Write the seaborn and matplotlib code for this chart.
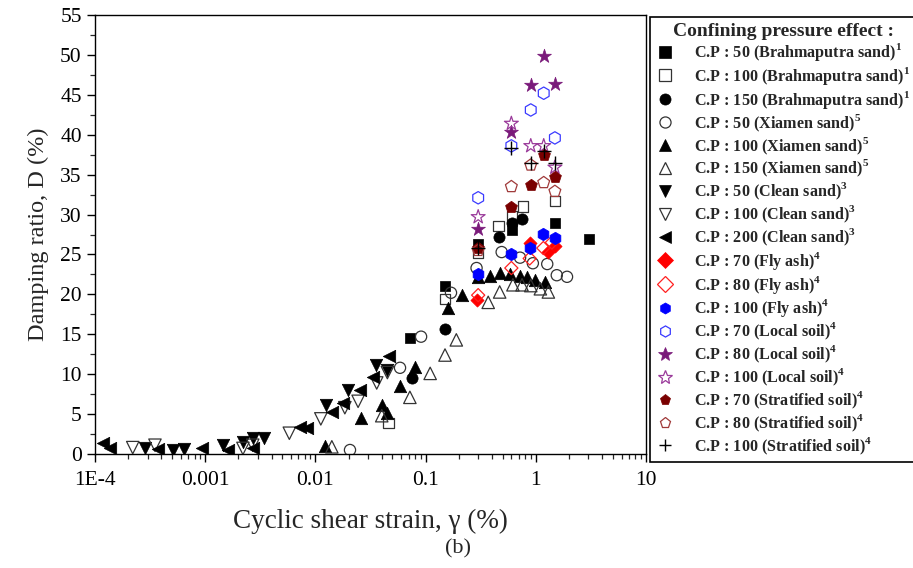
import matplotlib
matplotlib.use("Agg")
import matplotlib.pyplot as plt
import seaborn as sns
import numpy as np
import pandas as pd
from matplotlib.lines import Line2D
from matplotlib.ticker import FixedLocator, NullFormatter, MultipleLocator

# ---------------- data ----------------
bs50_x = [0.072, 0.15, 0.30, 0.61, 1.49, 3.04]
bs50_y = [14.5, 21.1, 26.3, 28.1, 28.9, 26.9]
bs100_x = [0.046, 0.15, 0.30, 0.46, 0.61, 0.77, 1.50]
bs100_y = [3.9, 19.4, 25.2, 28.6, 29.8, 31.0, 31.7]
bs150_x = [0.075, 0.15, 0.46, 0.61, 0.75]
bs150_y = [9.5, 15.7, 27.2, 29.0, 29.4]
xm50_x = [0.0206, 0.0586, 0.091, 0.17, 0.29, 0.49, 0.72, 0.94, 1.27, 1.55, 1.92]
xm50_y = [0.5, 10.8, 14.7, 20.2, 23.3, 25.3, 24.6, 23.9, 23.8, 22.4, 22.2]
xm100_x = [0.0122, 0.026, 0.040, 0.045, 0.058, 0.080, 0.16, 0.214, 0.30, 0.384, 0.47, 0.58, 0.72, 0.83, 0.99, 1.22]
xm100_y = [1.0, 4.5, 6.1, 5.1, 8.5, 10.9, 18.3, 19.9, 22.2, 22.3, 22.7, 22.6, 22.3, 22.2, 21.8, 21.5]
xm150_x = [0.0141, 0.040, 0.072, 0.11, 0.15, 0.19, 0.37, 0.47, 0.62, 0.75, 0.90, 1.10, 1.30]
xm150_y = [0.9, 4.8, 7.1, 10.1, 12.4, 14.3, 19.0, 20.3, 21.2, 21.2, 21.1, 20.7, 20.3]
cs50_x = [0.000285, 0.00051, 0.00064, 0.00145, 0.0022, 0.0027, 0.0034, 0.0125, 0.0198, 0.0355, 0.045]
cs50_y = [0.8, 0.5, 0.6, 1.1, 1.5, 2.0, 2.0, 6.1, 8.0, 11.2, 10.5]
cs100_x = [0.00022, 0.00035, 0.0022, 0.0027, 0.0058, 0.0112, 0.0185, 0.0244, 0.036, 0.045]
cs100_y = [0.8, 1.1, 0.7, 1.1, 2.6, 4.4, 5.8, 6.6, 8.9, 10.2]
cs200_x = [0.000118, 0.000137, 0.00037, 0.00094, 0.0016, 0.0027, 0.0072, 0.0084, 0.0141, 0.0178, 0.0254, 0.033, 0.047]
cs200_y = [1.4, 0.8, 0.6, 0.8, 0.5, 0.8, 3.4, 3.3, 5.3, 6.4, 8.0, 9.6, 12.3]
fa70_x = [0.29, 0.88, 1.30, 1.50]
fa70_y = [19.3, 26.4, 25.3, 26.0]
fa80_x = [0.30, 0.60, 0.88, 1.17, 1.40]
fa80_y = [19.9, 23.3, 24.5, 25.8, 26.5]
fa100_x = [0.30, 0.60, 0.885, 1.17, 1.49]
fa100_y = [22.5, 25.1, 25.8, 27.6, 27.1]
ls70_x = [0.30, 0.60, 0.90, 1.18, 1.49]
ls70_y = [32.1, 38.6, 43.1, 45.2, 39.6]
ls80_x = [0.30, 0.60, 0.90, 1.18, 1.49]
ls80_y = [28.2, 40.3, 46.2, 49.9, 46.3]
ls100_x = [0.30, 0.60, 0.90, 1.18, 1.49]
ls100_y = [29.7, 41.4, 38.6, 38.6, 35.9]
ss70_x = [0.30, 0.60, 0.90, 1.18, 1.49]
ss70_y = [25.8, 31.0, 33.7, 37.5, 34.7]
ss80_x = [0.30, 0.60, 0.90, 1.18, 1.49]
ss80_y = [25.5, 33.5, 36.2, 34.0, 32.9]
ss100_x = [0.30, 0.60, 0.90, 1.18, 1.49]
ss100_y = [25.8, 38.3, 36.4, 37.9, 36.4]

labels = [
    r"C.P : 50 (Brahmaputra sand)$^\mathbf{1}$",
    r"C.P : 100 (Brahmaputra sand)$^\mathbf{1}$",
    r"C.P : 150 (Brahmaputra sand)$^\mathbf{1}$",
    r"C.P : 50 (Xiamen sand)$^\mathbf{5}$",
    r"C.P : 100 (Xiamen sand)$^\mathbf{5}$",
    r"C.P : 150 (Xiamen sand)$^\mathbf{5}$",
    r"C.P : 50 (Clean sand)$^\mathbf{3}$",
    r"C.P : 100 (Clean sand)$^\mathbf{3}$",
    r"C.P : 200 (Clean sand)$^\mathbf{3}$",
    r"C.P : 70 (Fly ash)$^\mathbf{4}$",
    r"C.P : 80 (Fly ash)$^\mathbf{4}$",
    r"C.P : 100 (Fly ash)$^\mathbf{4}$",
    r"C.P : 70 (Local soil)$^\mathbf{4}$",
    r"C.P : 80 (Local soil)$^\mathbf{4}$",
    r"C.P : 100 (Local soil)$^\mathbf{4}$",
    r"C.P : 70 (Stratified soil)$^\mathbf{4}$",
    r"C.P : 80 (Stratified soil)$^\mathbf{4}$",
    r"C.P : 100 (Stratified soil)$^\mathbf{4}$",
]
xtick_vals = [1e-4, 1e-3, 1e-2, 1e-1, 1, 10]
xtick_labels = ["1E-4", "0.001", "0.01", "0.1", "1", "10"]

series_data = [
    (bs50_x, bs50_y), (bs100_x, bs100_y), (bs150_x, bs150_y),
    (xm50_x, xm50_y), (xm100_x, xm100_y), (xm150_x, xm150_y),
    (cs50_x, cs50_y), (cs100_x, cs100_y), (cs200_x, cs200_y),
    (fa70_x, fa70_y), (fa80_x, fa80_y), (fa100_x, fa100_y),
    (ls70_x, ls70_y), (ls80_x, ls80_y), (ls100_x, ls100_y),
    (ss70_x, ss70_y), (ss80_x, ss80_y), (ss100_x, ss100_y),
]

# style: (marker, edgecolor, filled, size)
styles = [
    ("s", "black", True, 55), ("s", "#333333", False, 55), ("o", "black", True, 65),
    ("o", "#333333", False, 65), ("^", "black", True, 80), ("^", "#333333", False, 80),
    ("v", "black", True, 80), ("v", "#333333", False, 80), ("<", "black", True, 80),
    ("D", "#ff0000", True, 45), ("D", "#ff2020", False, 45), ("h", "#0000ff", True, 80),
    ("h", "#3a3aff", False, 80), ("*", "#7a1a7a", True, 110), ("*", "#9a3a9a", False, 110),
    ("p", "#7a0000", True, 80), ("p", "#a03a3a", False, 80), ("+", "black", True, 90),
]

sns.set_theme(style="ticks")
plt.rcParams["font.family"] = ["Liberation Serif", "DejaVu Serif"]
plt.rcParams["mathtext.fontset"] = "custom"
plt.rcParams["mathtext.rm"] = "Liberation Serif"
plt.rcParams["mathtext.bf"] = "Liberation Serif:bold"

fig = plt.figure(figsize=(9.13, 5.68), dpi=100)
ax = fig.add_axes([95 / 913, 1 - 454 / 568, (646 - 95) / 913, (454 - 15) / 568])

handles = []
for (xs, ys), (m, c, filled, s), lab in zip(series_data, styles, labels):
    df = pd.DataFrame({"x": xs, "y": ys})
    if m == "+":
        sns.scatterplot(data=df, x="x", y="y", marker=m, color=c, s=s, linewidth=1.0, ax=ax, zorder=3)
        h = Line2D([], [], marker=m, ls="none", color=c, markersize=9, markeredgewidth=1.0)
    elif filled:
        sns.scatterplot(data=df, x="x", y="y", marker=m, color=c, edgecolor=c, s=s, linewidth=0.5, ax=ax, zorder=3)
        h = Line2D([], [], marker=m, ls="none", color=c, markerfacecolor=c, markeredgecolor=c, markersize=8 if m != "*" else 10, markeredgewidth=0.5)
    else:
        sns.scatterplot(data=df, x="x", y="y", marker=m, facecolor="none", edgecolor=c, s=s, linewidth=0.9, ax=ax, zorder=3)
        h = Line2D([], [], marker=m, ls="none", markerfacecolor="none", markeredgecolor=c, markersize=8 if m != "*" else 10, markeredgewidth=0.9)
    handles.append(h)

ax.set_xscale("log")
ax.set_xlim(1e-4, 10)
ax.set_ylim(0, 55)
ax.set_xticks(xtick_vals)
ax.set_xticklabels(xtick_labels)
minors = [m * 10.0 ** e for e in range(-4, 1) for m in range(2, 10)]
ax.xaxis.set_minor_locator(FixedLocator(minors))
ax.xaxis.set_minor_formatter(NullFormatter())
ax.yaxis.set_major_locator(MultipleLocator(5))
ax.yaxis.set_minor_locator(MultipleLocator(2.5))
ax.tick_params(axis="both", which="major", direction="out", length=6, width=1.0, labelsize=15.5, colors="black")
ax.tick_params(axis="x", which="major", pad=6)
ax.tick_params(axis="both", which="minor", direction="out", length=3.5, width=0.9)
for sp in ax.spines.values():
    sp.set_color("black")
    sp.set_linewidth(1.0)
ax.set_xlabel("Cyclic shear strain, γ (%)", fontsize=19.5, labelpad=14)
ax.set_ylabel("Damping ratio, D (%)", fontsize=17.5, labelpad=8)

leg = fig.legend(handles=handles, labels=labels, loc="upper left",
                 bbox_to_anchor=(650 / 913, 1 - 17 / 568), bbox_transform=fig.transFigure,
                 frameon=True, fancybox=False, edgecolor="black", framealpha=1,
                 prop={"weight": "bold", "size": 11.6}, title="Confining pressure effect :",
                 title_fontproperties={"weight": "bold", "size": 14},
                 labelspacing=0.105, handletextpad=1.3, borderpad=0.35, handlelength=1.1,
                 borderaxespad=0)
leg.get_frame().set_linewidth(1.2)

fig.text(458 / 913, 1 - 549 / 568, "(b)", ha="center", va="center", fontsize=16)

fig.canvas.draw()
r = fig.canvas.get_renderer()
tb = leg.get_title().get_window_extent(r)
inv = fig.transFigure.inverted()
(x0, y0), (x1, y1) = inv.transform([(tb.x0, tb.y0), (tb.x1, tb.y0)])
fig.add_artist(Line2D([x0, x1], [y0 + 0.002, y0 + 0.002], color="black", lw=1.0, transform=fig.transFigure))

fig.savefig("out.png", dpi=100)
